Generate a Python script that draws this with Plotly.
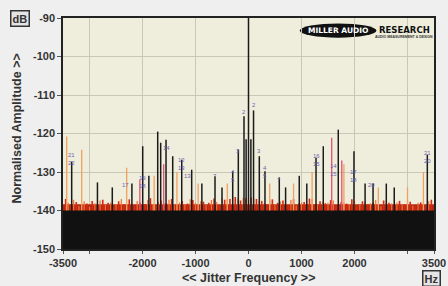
import plotly.graph_objects as go

# ---------------- data ----------------
black_hz = [-3336, -2850, -2570, -2200, -1996, -1880, -1713, -1657, -1556, -1430, -1260, -1072,
            -880, -632, -500, -298, -192, -85, -45, 0, 45, 95, 204, 311, 581, 700, 958, 1100,
            1274, 1411, 1694, 1990, 2200, 2350, 2600, 2750, 3374]
black_db = [-127.3, -132.7, -134, -133, -123.3, -131, -119.5, -122.4, -121.6, -125.9, -126.8, -129.4,
            -133, -131.1, -134, -129.8, -124.2, -115.5, -121.5, -90, -121.5, -114, -125.9, -129.8,
            -131.4, -134, -131, -133, -126.3, -123.3, -119, -124.6, -133, -133, -133, -134, -125.5]

orange_hz = [-3430, -3147, -2298, -1780, -1350, -950, -400, 400, 850, 1200, 1800, 2450, 3000, 3300]
orange_db = [-120.8, -124.2, -128.9, -131, -130, -133, -133, -133, -133, -130, -128, -134, -134, -130]

pink_hz = [-2050, -1600, 1570, 1760]
pink_db = [-132, -128, -121.1, -127]

label_hz = [-3336, -2329, -1996, -1556, -1260, -1150, -632, -298, -192, -85, 95, 204, 311, 581,
            1274, 1600, 1980, 2320, 3374]
label_db = [-126.5, -133.5, -132.5, -123.7, -128, -131, -131, -131, -124.5, -114.4, -112.5, -124.5,
            -130, -132, -127, -129.5, -131, -133.5, -126]
label_txt = ["21<br>22", "17", "19<br>18", "14", "12<br>13", "13", "7", "4<br>5", "3", "2", "2", "3",
             "4<br>5", "7", "16<br>15", "14<br>15", "17<br>18", "20", "21<br>20"]

noise_hz = list(range(-3450, 3451, 100))
noise_db = [-137.0, -138.5, -137.8, -139.0, -138.2, -137.5, -138.8, -137.2, -138.0, -139.2,
            -137.6, -138.4, -137.1, -138.9, -137.9, -138.3, -136.8, -138.6, -137.4, -138.1,
            -137.0, -138.7, -137.5, -138.2, -137.3, -138.8, -137.7, -138.0, -136.9, -138.5,
            -137.2, -137.0, -136.5, -137.4, -136.8, -136.6, -137.0, -137.5, -138.3, -137.1,
            -138.0, -137.4, -138.6, -137.0, -138.2, -137.8, -136.9, -138.4, -137.6, -138.1,
            -137.3, -138.7, -137.8, -138.2, -137.1, -138.9, -137.6, -138.3, -137.9, -138.6,
            -137.4, -138.0, -138.8, -137.5, -138.4, -137.7, -139.0, -137.9, -138.5, -137.2]

noise2_hz = list(range(-3400, 3401, 100))
noise2_db = [-138.0, -137.2, -138.8, -137.6, -139.0, -138.1, -137.4, -138.6, -137.9, -138.3,
             -137.0, -138.7, -138.2, -137.5, -138.9, -137.3, -138.4, -137.8, -138.1, -137.2,
             -138.6, -137.9, -138.3, -137.1, -138.0, -137.6, -138.5, -137.3, -137.8, -136.8,
             -137.1, -136.4, -136.9, -136.7, -137.2, -136.8, -137.5, -138.0, -137.2, -138.4,
             -137.6, -138.1, -137.3, -138.7, -137.9, -138.2, -137.0, -138.5, -137.7, -138.0,
             -137.4, -138.8, -137.9, -138.3, -137.5, -138.6, -137.8, -138.1, -137.3, -138.9,
             -137.6, -138.2, -137.9, -138.5, -137.4, -138.7, -138.0, -138.4, -137.6]

floor_hz = [-3500, 3500]
floor_top = [-140, -140]
band_top = [-138.4, -138.4]
floor_bottom = [-150, -150]

x_ticks = [-3500, -3000, -2000, -1000, 0, 1000, 2000, 3000, 3500]
x_text = ["-3500", "", "-2000", "-1000", "0", "1000", "2000", "", "3500"]
y_ticks = [-150, -140, -130, -120, -110, -100, -90]
y_text = ["-150", "-140", "-130", "-120", "-110", "-100", "-90"]


def stems(xs, ys, base=-150):
    sx, sy = [], []
    for x, y in zip(xs, ys):
        sx += [x, x, None]
        sy += [base, y, None]
    return sx, sy


fig = go.Figure()

# red noise band
fig.add_trace(go.Scatter(x=floor_hz, y=floor_bottom, mode="lines", line=dict(width=0),
                         hoverinfo="skip", showlegend=False))
fig.add_trace(go.Scatter(x=floor_hz, y=band_top, mode="lines", line=dict(width=0),
                         fill="tonexty", fillcolor="#b52814", hoverinfo="skip", showlegend=False))

nx, ny = stems(noise_hz, noise_db)
fig.add_trace(go.Scatter(x=nx, y=ny, mode="lines", line=dict(color="#d42a10", width=1.6),
                         hoverinfo="skip", showlegend=False))
nx2, ny2 = stems(noise2_hz, noise2_db)
fig.add_trace(go.Scatter(x=nx2, y=ny2, mode="lines", line=dict(color="#f07030", width=1.2),
                         hoverinfo="skip", showlegend=False))

ox, oy = stems(orange_hz, orange_db)
fig.add_trace(go.Scatter(x=ox, y=oy, mode="lines", line=dict(color="#f0a060", width=1.3),
                         hoverinfo="skip", showlegend=False))
px_, py_ = stems(pink_hz, pink_db)
fig.add_trace(go.Scatter(x=px_, y=py_, mode="lines", line=dict(color="#e05070", width=1.3),
                         hoverinfo="skip", showlegend=False))
bx, by = stems(black_hz, black_db)
fig.add_trace(go.Scatter(x=bx, y=by, mode="lines", line=dict(color="#1a1a1a", width=1.5),
                         hoverinfo="skip", showlegend=False))

# black noise floor on top
fig.add_trace(go.Scatter(x=floor_hz, y=floor_bottom, mode="lines", line=dict(width=0),
                         hoverinfo="skip", showlegend=False))
fig.add_trace(go.Scatter(x=floor_hz, y=floor_top, mode="lines", line=dict(width=0),
                         fill="tonexty", fillcolor="#111111", hoverinfo="skip", showlegend=False))

for hz, db, t in zip(label_hz, label_db, label_txt):
    fig.add_annotation(x=hz, y=db, text=t, showarrow=False, xanchor="center", yanchor="middle",
                       font=dict(size=6, color="#7060b0", family="Liberation Sans"))

font = "Liberation Sans"
# logo
fig.add_shape(type="circle", xref="paper", yref="paper", x0=0.638, x1=0.845, y0=0.915, y1=0.976,
              fillcolor="#111111", line=dict(color="#111111", width=0), layer="below")
fig.add_annotation(xref="paper", yref="paper", x=0.741, y=0.946, text="MILLER AUDIO", showarrow=False,
                   xanchor="center", yanchor="middle",
                   font=dict(size=7.5, color="white", family="DejaVu Sans", weight="bold"))
fig.add_annotation(xref="paper", yref="paper", x=0.920, y=0.950, text="RESEARCH", showarrow=False,
                   xanchor="center", yanchor="middle",
                   font=dict(size=8.5, color="#111", family="DejaVu Sans", weight="bold"))
fig.add_annotation(xref="paper", yref="paper", x=0.920, y=0.919, text="AUDIO MEASUREMENT &amp; DESIGN",
                   showarrow=False, xanchor="center", yanchor="middle",
                   font=dict(size=3.5, color="#333", family=font, weight="bold"))

fig.add_annotation(xref="paper", yref="paper", x=-0.117, y=0.996, text="dB", showarrow=False,
                   xanchor="center", yanchor="middle",
                   font=dict(size=11, color="#333", family=font, weight="bold"),
                   bgcolor="#e4e4e4", bordercolor="#333", borderwidth=1.5, borderpad=1)
fig.add_annotation(xref="paper", yref="paper", x=0.992, y=-0.126, text="Hz", showarrow=False,
                   xanchor="center", yanchor="middle",
                   font=dict(size=11, color="#333", family=font, weight="bold"),
                   bgcolor="#e4e4e4", bordercolor="#333", borderwidth=1.5, borderpad=1)
fig.add_annotation(xref="paper", yref="paper", x=-0.125, y=0.52, text="Normalised Amplitude >>",
                   textangle=-90, showarrow=False, xanchor="center", yanchor="middle",
                   font=dict(size=12.5, color="#333", family=font, weight="bold"))
fig.add_annotation(xref="paper", yref="paper", x=0.500, y=-0.127, text="<< Jitter Frequency >>",
                   showarrow=False, xanchor="center", yanchor="middle",
                   font=dict(size=12.5, color="#333", family=font, weight="bold"))

axis_common = dict(showline=True, linecolor="#222", linewidth=1.5, mirror=True, automargin=False,
                   gridcolor="#c9c8b6", gridwidth=1, zeroline=False, ticks="outside",
                   tickcolor="#555", tickfont=dict(size=11, color="#333", family=font, weight="bold"))
fig.update_xaxes(range=[-3500, 3500], tickmode="array", tickvals=x_ticks, ticktext=x_text,
                 ticklen=3, **axis_common)
fig.update_yaxes(range=[-150, -90], tickmode="array", tickvals=y_ticks, ticktext=y_text,
                 ticklen=4, **axis_common)

fig.update_layout(width=448, height=286, margin=dict(l=63, r=14, t=18, b=37, autoexpand=False),
                  paper_bgcolor="#efefef", plot_bgcolor="#efeedd", showlegend=False)

fig.write_html("out.html", config={"displayModeBar": False},
               post_script="document.body.style.margin='0';document.body.style.background='#efefef';")
